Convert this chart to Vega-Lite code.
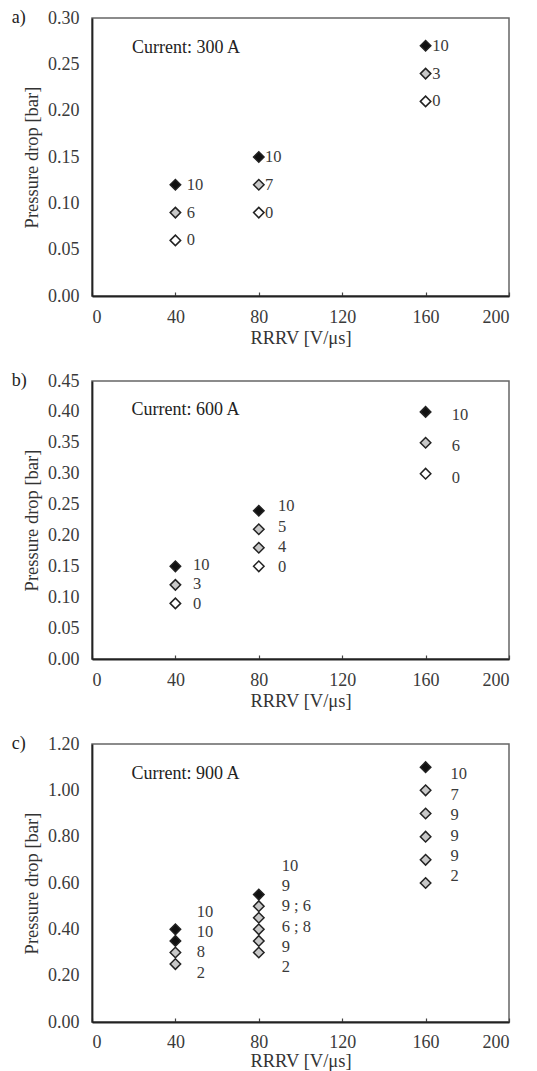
{
  "$schema": "https://vega.github.io/schema/vega-lite/v6.json",
  "padding": {"left": 10, "top": 8, "right": 5, "bottom": 0},
  "background": "white",
  "spacing": 85,
  "bounds": "flush",
  "datasets": {
    "pts": [
      {"panel": "a", "x": 40, "y": 0.12, "kind": "black"},
      {"panel": "a", "x": 40, "y": 0.09, "kind": "gray"},
      {"panel": "a", "x": 40, "y": 0.06, "kind": "white"},
      {"panel": "a", "x": 80, "y": 0.15, "kind": "black"},
      {"panel": "a", "x": 80, "y": 0.12, "kind": "gray"},
      {"panel": "a", "x": 80, "y": 0.09, "kind": "white"},
      {"panel": "a", "x": 160, "y": 0.27, "kind": "black"},
      {"panel": "a", "x": 160, "y": 0.24, "kind": "gray"},
      {"panel": "a", "x": 160, "y": 0.21, "kind": "white"},
      {"panel": "b", "x": 40, "y": 0.15, "kind": "black"},
      {"panel": "b", "x": 40, "y": 0.12, "kind": "gray"},
      {"panel": "b", "x": 40, "y": 0.09, "kind": "white"},
      {"panel": "b", "x": 80, "y": 0.24, "kind": "black"},
      {"panel": "b", "x": 80, "y": 0.21, "kind": "gray"},
      {"panel": "b", "x": 80, "y": 0.18, "kind": "gray"},
      {"panel": "b", "x": 80, "y": 0.15, "kind": "white"},
      {"panel": "b", "x": 160, "y": 0.40, "kind": "black"},
      {"panel": "b", "x": 160, "y": 0.35, "kind": "gray"},
      {"panel": "b", "x": 160, "y": 0.30, "kind": "white"},
      {"panel": "c", "x": 40, "y": 0.40, "kind": "black"},
      {"panel": "c", "x": 40, "y": 0.35, "kind": "black"},
      {"panel": "c", "x": 40, "y": 0.30, "kind": "gray"},
      {"panel": "c", "x": 40, "y": 0.25, "kind": "gray"},
      {"panel": "c", "x": 80, "y": 0.55, "kind": "black"},
      {"panel": "c", "x": 80, "y": 0.50, "kind": "gray"},
      {"panel": "c", "x": 80, "y": 0.45, "kind": "gray"},
      {"panel": "c", "x": 80, "y": 0.40, "kind": "gray"},
      {"panel": "c", "x": 80, "y": 0.35, "kind": "gray"},
      {"panel": "c", "x": 80, "y": 0.30, "kind": "gray"},
      {"panel": "c", "x": 160, "y": 1.10, "kind": "black"},
      {"panel": "c", "x": 160, "y": 1.00, "kind": "gray"},
      {"panel": "c", "x": 160, "y": 0.90, "kind": "gray"},
      {"panel": "c", "x": 160, "y": 0.80, "kind": "gray"},
      {"panel": "c", "x": 160, "y": 0.70, "kind": "gray"},
      {"panel": "c", "x": 160, "y": 0.60, "kind": "gray"}
    ],
    "labels": [
      {"panel": "a", "x": 45.5, "y": 0.12, "text": "10"},
      {"panel": "a", "x": 45.5, "y": 0.09, "text": "6"},
      {"panel": "a", "x": 45.5, "y": 0.06, "text": "0"},
      {"panel": "a", "x": 83, "y": 0.15, "text": "10"},
      {"panel": "a", "x": 83, "y": 0.12, "text": "7"},
      {"panel": "a", "x": 83, "y": 0.09, "text": "0"},
      {"panel": "a", "x": 163.2, "y": 0.27, "text": "10"},
      {"panel": "a", "x": 163.2, "y": 0.24, "text": "3"},
      {"panel": "a", "x": 163.2, "y": 0.21, "text": "0"},
      {"panel": "b", "x": 48.4, "y": 0.152, "text": "10"},
      {"panel": "b", "x": 48.4, "y": 0.121, "text": "3"},
      {"panel": "b", "x": 48.4, "y": 0.089, "text": "0"},
      {"panel": "b", "x": 89.2, "y": 0.247, "text": "10"},
      {"panel": "b", "x": 89.2, "y": 0.214, "text": "5"},
      {"panel": "b", "x": 89.2, "y": 0.181, "text": "4"},
      {"panel": "b", "x": 89.2, "y": 0.149, "text": "0"},
      {"panel": "b", "x": 172.5, "y": 0.395, "text": "10"},
      {"panel": "b", "x": 172.5, "y": 0.345, "text": "6"},
      {"panel": "b", "x": 172.5, "y": 0.293, "text": "0"},
      {"panel": "c", "x": 50.2, "y": 0.473, "text": "10"},
      {"panel": "c", "x": 50.2, "y": 0.387, "text": "10"},
      {"panel": "c", "x": 50.2, "y": 0.301, "text": "8"},
      {"panel": "c", "x": 50.2, "y": 0.210, "text": "2"},
      {"panel": "c", "x": 91, "y": 0.675, "text": "10"},
      {"panel": "c", "x": 91, "y": 0.588, "text": "9"},
      {"panel": "c", "x": 91, "y": 0.501, "text": "9 ; 6"},
      {"panel": "c", "x": 91, "y": 0.411, "text": "6 ; 8"},
      {"panel": "c", "x": 91, "y": 0.325, "text": "9"},
      {"panel": "c", "x": 91, "y": 0.236, "text": "2"},
      {"panel": "c", "x": 172, "y": 1.069, "text": "10"},
      {"panel": "c", "x": 172, "y": 0.980, "text": "7"},
      {"panel": "c", "x": 172, "y": 0.893, "text": "9"},
      {"panel": "c", "x": 172, "y": 0.804, "text": "9"},
      {"panel": "c", "x": 172, "y": 0.718, "text": "9"},
      {"panel": "c", "x": 172, "y": 0.632, "text": "2"}
    ],
    "notes": [
      {"panel": "a", "x": 19.2, "y": 0.2676, "text": "Current: 300 A"},
      {"panel": "b", "x": 19.0, "y": 0.4026, "text": "Current: 600 A"},
      {"panel": "c", "x": 19.0, "y": 1.0705, "text": "Current: 900 A"}
    ],
    "letters": [
      {"panel": "a", "x": -38.5, "y": 0.30, "text": "a)"},
      {"panel": "b", "x": -38.5, "y": 0.45, "text": "b)"},
      {"panel": "c", "x": -38.5, "y": 1.20, "text": "c)"}
    ]
  },
  "config": {
    "view": {"stroke": "#666", "strokeWidth": 1.5},
    "axis": {
      "domainColor": "#222", "domainWidth": 1.8,
      "tickColor": "#444", "tickWidth": 1.2,
      "grid": false, "labelOverlap": false,
      "labelFont": "Liberation Serif", "labelFontSize": 18, "labelColor": "#3a3a3a",
      "titleFont": "Liberation Serif", "titleFontSize": 18.5, "titleFontWeight": "normal", "titleColor": "#333"
    },
    "axisX": {"tickSize": -4, "labelPadding": 16, "titlePadding": 2},
    "axisY": {"ticks": false, "labelPadding": 13, "titlePadding": 6},
    "text": {"font": "Liberation Serif", "fontSize": 16.5, "color": "#3a3a3a"}
  },
  "vconcat": [
    {
      "width": 417, "height": 278,
      "layer": [
        {
          "data": {"name": "pts"},
          "transform": [{"filter": "datum.panel == 'a'"}],
          "mark": {"type": "point", "shape": "diamond", "filled": true, "size": 110, "stroke": "#222", "strokeWidth": 1.5, "opacity": 1},
          "encoding": {
            "x": {"field": "x", "type": "quantitative", "scale": {"domain": [0, 200], "nice": false}, "axis": {"values": [0, 40, 80, 120, 160, 200], "tickCount": 20, "labelOverlap": false, "title": "RRRV [V/μs]"}},
            "y": {"field": "y", "type": "quantitative", "scale": {"domain": [0, 0.30], "nice": false}, "axis": {"values": [0, 0.05, 0.10, 0.15, 0.20, 0.25, 0.30], "tickCount": 20, "labelOverlap": false, "format": ".2f", "title": "Pressure drop [bar]"}},
            "fill": {"field": "kind", "type": "nominal", "scale": {"domain": ["black", "gray", "white"], "range": ["#111", "#c8c8c8", "#fff"]}, "legend": null}
          }
        },
        {
          "data": {"name": "labels"},
          "transform": [{"filter": "datum.panel == 'a'"}],
          "mark": {"type": "text", "align": "left", "baseline": "middle"},
          "encoding": {"x": {"field": "x", "type": "quantitative"}, "y": {"field": "y", "type": "quantitative"}, "text": {"field": "text"}}
        },
        {
          "data": {"name": "notes"},
          "transform": [{"filter": "datum.panel == 'a'"}],
          "mark": {"type": "text", "align": "left", "baseline": "middle", "fontSize": 18, "color": "#222"},
          "encoding": {"x": {"field": "x", "type": "quantitative"}, "y": {"field": "y", "type": "quantitative"}, "text": {"field": "text"}}
        },
        {
          "data": {"name": "letters"},
          "transform": [{"filter": "datum.panel == 'a'"}],
          "mark": {"type": "text", "align": "left", "baseline": "middle", "fontSize": 18, "color": "#222"},
          "encoding": {"x": {"field": "x", "type": "quantitative"}, "y": {"field": "y", "type": "quantitative"}, "text": {"field": "text"}}
        }
      ]
    },
    {
      "width": 417, "height": 278,
      "layer": [
        {
          "data": {"name": "pts"},
          "transform": [{"filter": "datum.panel == 'b'"}],
          "mark": {"type": "point", "shape": "diamond", "filled": true, "size": 110, "stroke": "#222", "strokeWidth": 1.5, "opacity": 1},
          "encoding": {
            "x": {"field": "x", "type": "quantitative", "scale": {"domain": [0, 200], "nice": false}, "axis": {"values": [0, 40, 80, 120, 160, 200], "tickCount": 20, "labelOverlap": false, "title": "RRRV [V/μs]"}},
            "y": {"field": "y", "type": "quantitative", "scale": {"domain": [0, 0.45], "nice": false}, "axis": {"values": [0, 0.05, 0.10, 0.15, 0.20, 0.25, 0.30, 0.35, 0.40, 0.45], "tickCount": 20, "labelOverlap": false, "format": ".2f", "title": "Pressure drop [bar]"}},
            "fill": {"field": "kind", "type": "nominal", "scale": {"domain": ["black", "gray", "white"], "range": ["#111", "#c8c8c8", "#fff"]}, "legend": null}
          }
        },
        {
          "data": {"name": "labels"},
          "transform": [{"filter": "datum.panel == 'b'"}],
          "mark": {"type": "text", "align": "left", "baseline": "middle"},
          "encoding": {"x": {"field": "x", "type": "quantitative"}, "y": {"field": "y", "type": "quantitative"}, "text": {"field": "text"}}
        },
        {
          "data": {"name": "notes"},
          "transform": [{"filter": "datum.panel == 'b'"}],
          "mark": {"type": "text", "align": "left", "baseline": "middle", "fontSize": 18, "color": "#222"},
          "encoding": {"x": {"field": "x", "type": "quantitative"}, "y": {"field": "y", "type": "quantitative"}, "text": {"field": "text"}}
        },
        {
          "data": {"name": "letters"},
          "transform": [{"filter": "datum.panel == 'b'"}],
          "mark": {"type": "text", "align": "left", "baseline": "middle", "fontSize": 18, "color": "#222"},
          "encoding": {"x": {"field": "x", "type": "quantitative"}, "y": {"field": "y", "type": "quantitative"}, "text": {"field": "text"}}
        }
      ]
    },
    {
      "width": 417, "height": 278,
      "layer": [
        {
          "data": {"name": "pts"},
          "transform": [{"filter": "datum.panel == 'c'"}],
          "mark": {"type": "point", "shape": "diamond", "filled": true, "size": 110, "stroke": "#222", "strokeWidth": 1.5, "opacity": 1},
          "encoding": {
            "x": {"field": "x", "type": "quantitative", "scale": {"domain": [0, 200], "nice": false}, "axis": {"values": [0, 40, 80, 120, 160, 200], "tickCount": 20, "labelOverlap": false, "labelPadding": 15, "titlePadding": 0, "title": "RRRV [V/μs]"}},
            "y": {"field": "y", "type": "quantitative", "scale": {"domain": [0, 1.2], "nice": false}, "axis": {"values": [0, 0.2, 0.4, 0.6, 0.8, 1.0, 1.2], "tickCount": 20, "labelOverlap": false, "format": ".2f", "title": "Pressure drop [bar]"}},
            "fill": {"field": "kind", "type": "nominal", "scale": {"domain": ["black", "gray", "white"], "range": ["#111", "#c8c8c8", "#fff"]}, "legend": null}
          }
        },
        {
          "data": {"name": "labels"},
          "transform": [{"filter": "datum.panel == 'c'"}],
          "mark": {"type": "text", "align": "left", "baseline": "middle"},
          "encoding": {"x": {"field": "x", "type": "quantitative"}, "y": {"field": "y", "type": "quantitative"}, "text": {"field": "text"}}
        },
        {
          "data": {"name": "notes"},
          "transform": [{"filter": "datum.panel == 'c'"}],
          "mark": {"type": "text", "align": "left", "baseline": "middle", "fontSize": 18, "color": "#222"},
          "encoding": {"x": {"field": "x", "type": "quantitative"}, "y": {"field": "y", "type": "quantitative"}, "text": {"field": "text"}}
        },
        {
          "data": {"name": "letters"},
          "transform": [{"filter": "datum.panel == 'c'"}],
          "mark": {"type": "text", "align": "left", "baseline": "middle", "fontSize": 18, "color": "#222"},
          "encoding": {"x": {"field": "x", "type": "quantitative"}, "y": {"field": "y", "type": "quantitative"}, "text": {"field": "text"}}
        }
      ]
    }
  ]
}
